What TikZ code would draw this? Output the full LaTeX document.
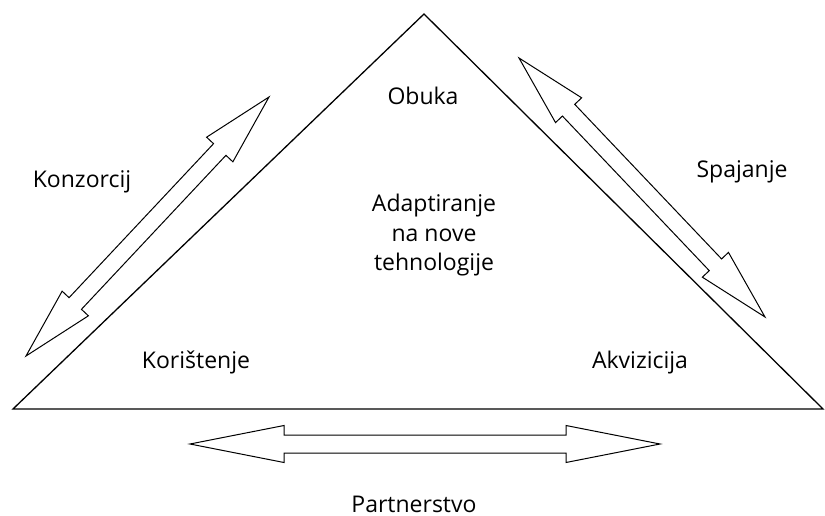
\documentclass[tikz,border=0pt]{standalone}
\usepackage{fontspec}
\setmainfont{Open Sans}
\usetikzlibrary{calc}
\tikzset{
  tri/.style={draw=black, line width=1.3pt, line join=miter},
  arrowshape/.style={draw=black, line width=1pt, fill=white, line join=miter},
  lbl/.style={anchor=base, inner sep=0pt, font=\fontsize{23}{29.5}\selectfont, align=center}
}
\newcommand\dblarrow[5]{%
  \coordinate (#1h) at ($(#1)!#3!(#2)$);
  \coordinate (#2h) at ($(#2)!#3!(#1)$);
  \draw[arrowshape] (#1)
    -- ($(#1h)!#4!90:(#2)$) -- ($(#1h)!#5!90:(#2)$)
    -- ($(#2h)!#5!-90:(#1)$) -- ($(#2h)!#4!-90:(#1)$)
    -- (#2)
    -- ($(#2h)!#4!90:(#1)$) -- ($(#2h)!#5!90:(#1)$)
    -- ($(#1h)!#5!-90:(#2)$) -- ($(#1h)!#4!-90:(#2)$)
    -- cycle;}
\begin{document}
\begin{tikzpicture}[x=1pt, y=-1pt]
  \useasboundingbox (0,0) rectangle (825,516);
  % triangle
  \coordinate (apex) at (424,14);
  \coordinate (bl) at (13,409);
  \coordinate (br) at (823,409);
  \draw[tri] (apex) -- (br) -- (bl) -- cycle;
  % arrows
  \coordinate (la) at (26,356);
  \coordinate (lb) at (269,97);
  \dblarrow{la}{lb}{72pt}{18pt}{8.5pt}
  \coordinate (ra) at (519,58);
  \coordinate (rb) at (765,317);
  \dblarrow{ra}{rb}{72pt}{18pt}{8.5pt}
  \coordinate (ba) at (190,444);
  \coordinate (bb) at (660,444);
  \dblarrow{ba}{bb}{94pt}{18.5pt}{9pt}
  % labels
  \node[lbl] (obuka) at (423,105) {Obuka};
  \node[lbl, anchor=north] (adapt) at (434,194) {Adaptiranje\\na nove\\tehnologije};
  \node[lbl] (kor) at (196,368) {Korištenje};
  \node[lbl] (akv) at (640,368) {Akvizicija};
  \node[lbl] (konz) at (82,188) {Konzorcij};
  \node[lbl] (spaj) at (742,178) {Spajanje};
  \node[lbl] (part) at (414,512) {Partnerstvo};
\end{tikzpicture}
\end{document}
